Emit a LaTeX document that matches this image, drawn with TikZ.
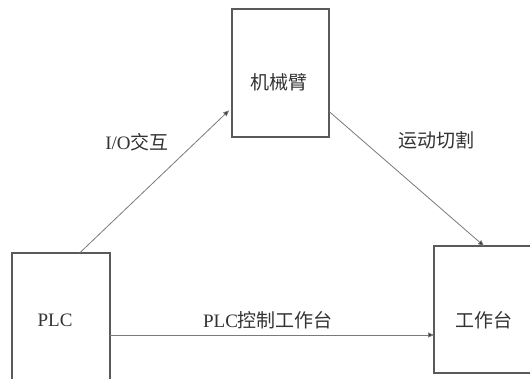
\documentclass[tikz,border=0pt]{standalone}
\usepackage{fontspec}
\setmainfont{Liberation Serif}
\newfontfamily\cjk{Noto Sans CJK SC}
\usetikzlibrary{arrows.meta,calc}
\definecolor{boxline}{HTML}{5A5A5A}
\definecolor{conn}{HTML}{7A7A7A}
\definecolor{txt}{HTML}{333333}
\begin{document}
\begin{tikzpicture}[x=1pt,y=1pt,
  blockbox/.style={draw=boxline,line width=1.4pt,fill=white,inner sep=0pt,outer sep=0pt},
  lbl/.style={text=txt,font=\fontsize{19}{22}\selectfont,inner sep=0pt},
  conn/.style={draw=conn,line width=0.8pt,-{Triangle[length=6pt,width=5pt,fill=black!80]}}]
\useasboundingbox (0,0) rectangle (530,379);
\clip (0,0) rectangle (530,379);
\fill[white] (0,0) rectangle (530,379);
% boxes
\node[blockbox,minimum width=98pt,minimum height=134pt] (plc) at (61,59) {};
\node[blockbox,minimum width=97pt,minimum height=128pt] (arm) at (280.5,306) {};
\node[blockbox,minimum width=100pt,minimum height=127pt] (work) at (484,69.5) {};
% box texts
\node[lbl] (plct) at (55,59) {PLC};
\node[lbl] (armt) at (279,297) {\cjk 机械臂};
\node[lbl] (workt) at (484,59) {\cjk 工作台};
% connectors
\coordinate (c3) at (0,44);
\draw[conn,shorten >=4pt] ($(plc.north west)!0.69!(plc.north east)$) -- ($(arm.south west)!0.23!(arm.north west)$);
\draw[conn] ($(arm.south east)!0.2!(arm.north east)$) -- (work.north);
\draw[conn] (plc.east |- c3) -- (work.west |- c3);
% connector labels
\node[lbl] (l1) at (137,237) {I/O{\cjk 交互}};
\node[lbl] (l2) at (436,239) {\cjk 运动切割};
\node[lbl] (l3) at (268,59) {PLC{\cjk 控制工作台}};
\end{tikzpicture}
\end{document}
